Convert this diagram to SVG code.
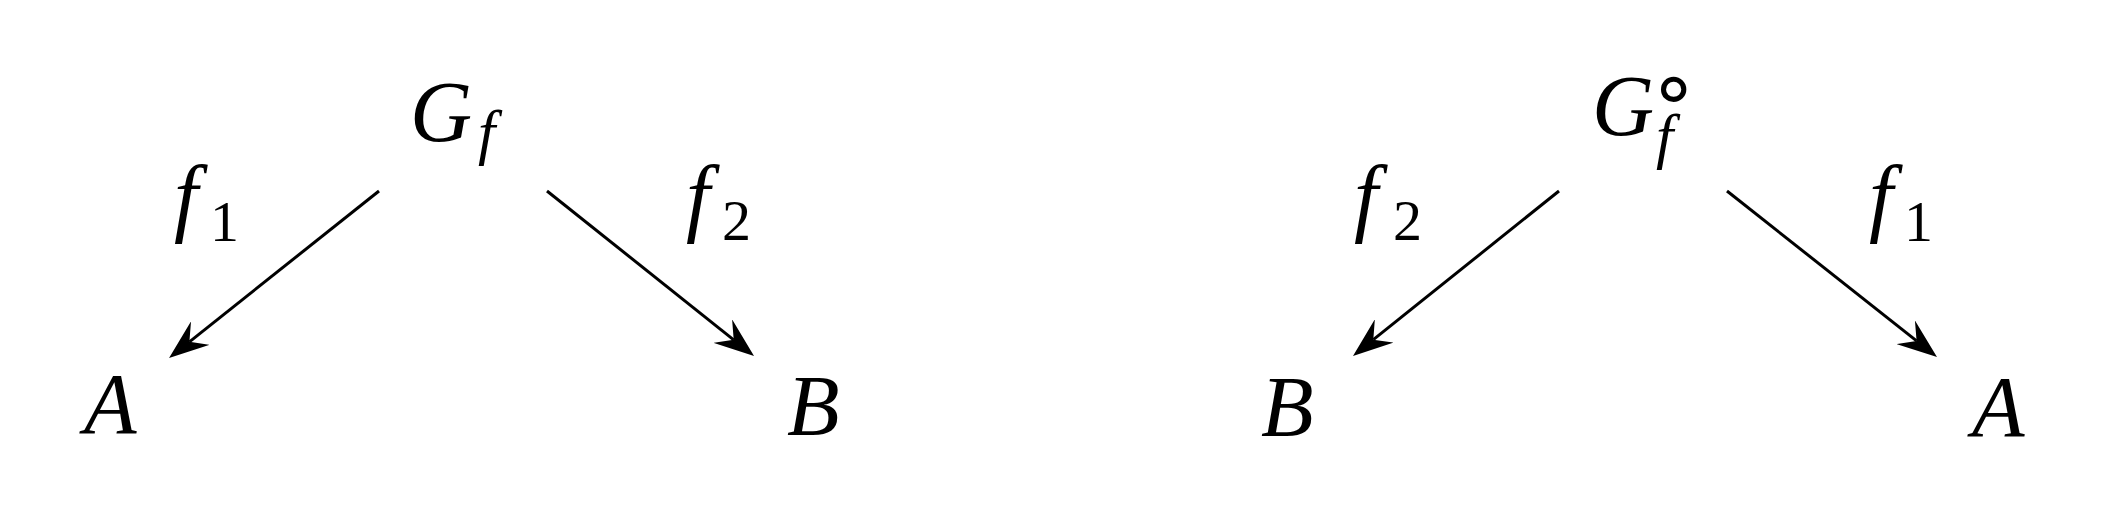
<svg xmlns="http://www.w3.org/2000/svg" width="2107" height="513" viewBox="0 0 2107 513">
<style>
.m{font-family:"Liberation Serif","DejaVu Serif",serif;font-style:italic;font-size:86px;fill:#000}
.s{font-family:"Liberation Serif","DejaVu Serif",serif;font-style:italic;font-size:62px;fill:#000}
.d{font-family:"Liberation Serif","DejaVu Serif",serif;font-size:58px;fill:#000}
.c{font-family:"DejaVu Sans",sans-serif;font-size:82px;fill:#000}
.e{stroke:#000;stroke-width:3;fill:none;marker-end:url(#ah)}
</style>
<defs>
<marker id="ah" markerUnits="userSpaceOnUse" viewBox="0 0 40 30" markerWidth="40" markerHeight="30" refX="14" refY="15" orient="auto">
<path d="M40 15 L0 0 L14 15 L0 30 Z" fill="#000"/>
</marker>
</defs>
<rect width="2107" height="513" fill="#fff"/>
<g id="connectors">
<line class="e" x1="379" y1="191" x2="189.4" y2="341.8"/>
<line class="e" x1="547" y1="191" x2="733.7" y2="339.8"/>
<line class="e" x1="1559" y1="191" x2="1373.3" y2="339.7"/>
<line class="e" x1="1727" y1="191" x2="1916.6" y2="340.9"/>
</g>
<g id="node-Gf">
<text class="m" x="410" y="141">G</text><text class="s" x="478" y="153">f</text>
</g>
<g id="node-A1"><text class="m" x="84" y="433">A</text></g>
<g id="node-B1"><text class="m" x="787" y="435">B</text></g>
<g id="label-f1-left"><text class="m" x="174" y="225">f</text><text class="d" x="210" y="241">1</text></g>
<g id="label-f2-left"><text class="m" x="686" y="225">f</text><text class="d" x="722" y="240">2</text></g>
<g id="node-Gfcirc">
<text class="m" x="1592" y="135">G</text><text class="c" x="1648" y="115">∘</text><text class="s" x="1656" y="157">f</text>
</g>
<g id="node-B2"><text class="m" x="1261" y="436">B</text></g>
<g id="node-A2"><text class="m" x="1972" y="436">A</text></g>
<g id="label-f2-right"><text class="m" x="1354" y="225">f</text><text class="d" x="1393" y="240">2</text></g>
<g id="label-f1-right"><text class="m" x="1869" y="225">f</text><text class="d" x="1904" y="241">1</text></g>
</svg>
